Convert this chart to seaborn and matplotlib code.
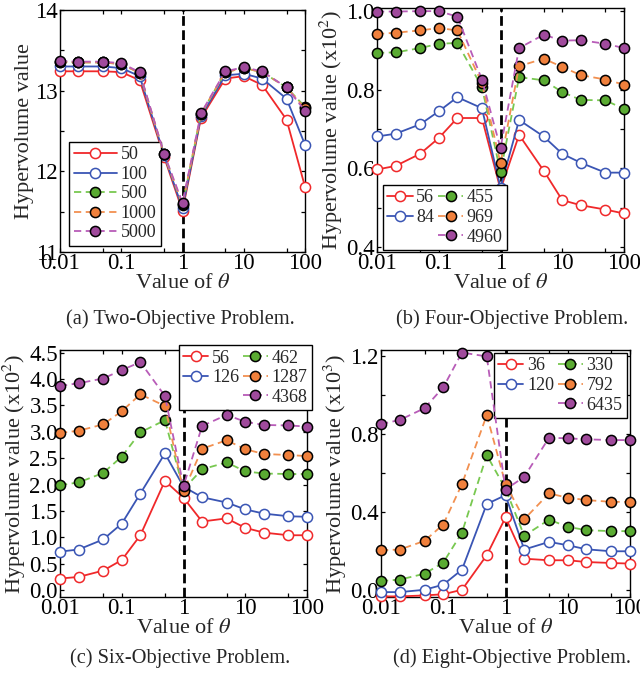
import matplotlib
matplotlib.use("Agg")
import matplotlib.pyplot as plt
from matplotlib.lines import Line2D
from matplotlib.ticker import FixedLocator, FixedFormatter, MultipleLocator, FormatStrFormatter
import seaborn as sns

# ---- data -----------------------------------------------------------------
theta = [0.01, 0.02, 0.05, 0.1, 0.2, 0.5, 1, 2, 5, 10, 20, 50, 100]

# (a) two objectives
labels_a = ["50", "100", "500", "1000", "5000"]
hv_a_50 = [13.24, 13.24, 13.24, 13.23, 13.13, 12.18, 11.51, 12.66, 13.15, 13.18, 13.07, 12.64, 11.81]
hv_a_100 = [13.30, 13.30, 13.30, 13.28, 13.18, 12.20, 11.54, 12.68, 13.19, 13.21, 13.15, 12.90, 12.33]
hv_a_500 = [13.36, 13.35, 13.35, 13.33, 13.22, 12.21, 11.58, 12.71, 13.23, 13.28, 13.23, 13.04, 12.80]
hv_a_1000 = [13.36, 13.35, 13.35, 13.33, 13.22, 12.21, 11.59, 12.71, 13.23, 13.28, 13.23, 13.04, 12.78]
hv_a_5000 = [13.37, 13.36, 13.36, 13.34, 13.23, 12.22, 11.61, 12.72, 13.24, 13.29, 13.24, 13.04, 12.75]

# (b) four objectives (x10^2)
labels_b = ["56", "84", "455", "969", "4960"]
hv_b_56 = [0.597, 0.606, 0.637, 0.677, 0.728, 0.728, 0.546, 0.685, 0.594, 0.519, 0.506, 0.495, 0.485]
hv_b_84 = [0.681, 0.688, 0.712, 0.745, 0.781, 0.753, 0.551, 0.723, 0.681, 0.637, 0.614, 0.589, 0.589]
hv_b_455 = [0.894, 0.895, 0.906, 0.917, 0.919, 0.807, 0.590, 0.832, 0.824, 0.794, 0.774, 0.773, 0.751]
hv_b_969 = [0.942, 0.945, 0.951, 0.957, 0.951, 0.817, 0.613, 0.860, 0.879, 0.858, 0.837, 0.826, 0.813]
hv_b_4960 = [0.999, 0.999, 1.000, 1.000, 0.986, 0.826, 0.651, 0.906, 0.940, 0.925, 0.926, 0.917, 0.906]

# (c) six objectives (x10^2)
labels_c = ["56", "126", "462", "1287", "4368"]
hv_c_56 = [0.22, 0.25, 0.37, 0.57, 1.04, 2.07, 1.75, 1.30, 1.36, 1.18, 1.09, 1.04, 1.04]
hv_c_126 = [0.73, 0.77, 0.96, 1.26, 1.83, 2.59, 1.96, 1.76, 1.66, 1.53, 1.45, 1.40, 1.39]
hv_c_462 = [1.99, 2.04, 2.22, 2.53, 2.99, 3.22, 1.91, 2.29, 2.42, 2.25, 2.21, 2.20, 2.20]
hv_c_1287 = [2.98, 3.02, 3.14, 3.39, 3.71, 3.49, 1.87, 2.68, 2.84, 2.67, 2.58, 2.56, 2.54]
hv_c_4368 = [3.87, 3.92, 4.01, 4.17, 4.32, 3.68, 1.97, 3.11, 3.32, 3.19, 3.13, 3.12, 3.10]

# (d) eight objectives (x10^3)
labels_d = ["36", "120", "330", "792", "6435"]
hv_d_36 = [-0.031, -0.031, -0.026, -0.020, 0.003, 0.180, 0.373, 0.162, 0.154, 0.154, 0.145, 0.140, 0.137]
hv_d_120 = [-0.009, -0.009, 0.003, 0.029, 0.106, 0.442, 0.487, 0.209, 0.248, 0.231, 0.210, 0.200, 0.200]
hv_d_330 = [0.048, 0.055, 0.085, 0.142, 0.296, 0.692, 0.520, 0.279, 0.362, 0.325, 0.308, 0.303, 0.303]
hv_d_792 = [0.205, 0.209, 0.253, 0.337, 0.544, 0.897, 0.544, 0.364, 0.496, 0.474, 0.462, 0.453, 0.453]
hv_d_6435 = [0.851, 0.872, 0.932, 1.039, 1.217, 1.197, 0.516, 0.581, 0.781, 0.778, 0.773, 0.769, 0.769]

xtick_vals = [0.01, 0.1, 1, 10, 100]
xtick_labels = ["0.01", "0.1", "1", "10", "100"]
captions = ["(a) Two-Objective Problem.", "(b) Four-Objective Problem.",
            "(c) Six-Objective Problem.", "(d) Eight-Objective Problem."]

# ---- style ----------------------------------------------------------------
sns.set_style("ticks")
plt.rcParams["font.family"] = ["Liberation Serif", "DejaVu Serif"]
plt.rcParams["mathtext.fontset"] = "stix"
plt.rcParams["axes.linewidth"] = 1.0
plt.rcParams["axes.edgecolor"] = "black"
plt.rcParams["xtick.color"] = "black"
plt.rcParams["ytick.color"] = "black"

RED = "#f0282a"
BLUE = "#3a55b4"
GREEN_L, GREEN_F = "#78c850", "#5aab32"
ORANGE_L, ORANGE_F = "#f29050", "#f0803c"
PURPLE_L, PURPLE_F = "#b85cb8", "#a04a9c"

DASH = (0, (4, 2.5))
series_style = [
    dict(color=RED, linestyle="-", markerfacecolor="white", markeredgecolor=RED),
    dict(color=BLUE, linestyle="-", markerfacecolor="white", markeredgecolor=BLUE),
    dict(color=GREEN_L, linestyle=DASH, markerfacecolor=GREEN_F, markeredgecolor="black"),
    dict(color=ORANGE_L, linestyle=DASH, markerfacecolor=ORANGE_F, markeredgecolor="black"),
    dict(color=PURPLE_L, linestyle=DASH, markerfacecolor=PURPLE_F, markeredgecolor="black"),
]

TICK_FS = 16.5
LABEL_FS = 16
LEGEND_FS = 13
CAPTION_FS = 14.7

fig = plt.figure(figsize=(6.4, 6.73), dpi=100)
W, H = 640, 673


def add_axes(l, r, t, b):
    return fig.add_axes([l / W, 1 - b / H, (r - l) / W, (b - t) / H])


def draw_panel(ax, series, labels):
    ax.axvline(1, color="black", linestyle=(0, (3.5, 1.6)), linewidth=2.0, zorder=1.5)
    handles = []
    for i, (vals, lab) in enumerate(zip(series, labels)):
        st = series_style[i]
        sns.lineplot(x=theta, y=vals, ax=ax, marker="o", markersize=7.3,
                     markeredgewidth=1.1, linewidth=1.3, clip_on=False,
                     zorder=3 + i, label=lab, legend=False, **st)
        handles.append(ax.lines[-1])
    ax.set_xscale("log")
    ax.set_xlim(0.01, 100)
    ax.xaxis.set_major_locator(FixedLocator(xtick_vals))
    ax.xaxis.set_major_formatter(FixedFormatter(xtick_labels))
    ax.xaxis.set_minor_locator(FixedLocator([0.05, 0.5, 5, 50]))
    ax.tick_params(which="both", direction="in", top=True, right=True,
                   labelsize=TICK_FS, width=0.9)
    ax.tick_params(axis="x", pad=1)
    ax.tick_params(axis="y", pad=1.5)
    ax.tick_params(which="major", length=3.2)
    ax.tick_params(which="minor", length=2.6)
    ax.set_xlabel(r"Value of $\theta$", fontsize=LABEL_FS, labelpad=-0.5)
    for s in ax.spines.values():
        s.set_visible(True)
        s.set_color("black")
    return handles


legend_common = dict(fontsize=LEGEND_FS, frameon=True, fancybox=False,
                     edgecolor="black", framealpha=1, borderaxespad=0,
                     borderpad=0.25, labelspacing=0.14, handletextpad=0.2)

blank = Line2D([], [], linestyle="none", marker=None)

# (a)
ax_a = add_axes(60, 305, 10, 252)
h = draw_panel(ax_a, [hv_a_50, hv_a_100, hv_a_500, hv_a_1000, hv_a_5000], labels_a)
ax_a.set_ylim(11, 14)
ax_a.yaxis.set_major_locator(MultipleLocator(1))
ax_a.yaxis.set_minor_locator(MultipleLocator(0.5))
ax_a.yaxis.set_major_formatter(FormatStrFormatter("%d"))
ax_a.set_ylabel("Hypervolume value", fontsize=LABEL_FS, labelpad=1)
leg = ax_a.legend(h, labels_a, loc="lower left", bbox_to_anchor=(0.037, 0.025),
                  handlelength=2.4, **legend_common)
leg.get_frame().set_linewidth(1.0)

# (b)
ax_b = add_axes(377, 624, 8, 252)
h = draw_panel(ax_b, [hv_b_56, hv_b_84, hv_b_455, hv_b_969, hv_b_4960], labels_b)
ax_b.set_ylim(0.387, 1.008)
ax_b.yaxis.set_major_locator(FixedLocator([0.4, 0.6, 0.8, 1.0]))
ax_b.yaxis.set_minor_locator(FixedLocator([0.5, 0.7, 0.9]))
ax_b.yaxis.set_major_formatter(FormatStrFormatter("%.1f"))
ax_b.set_ylabel(r"Hypervolume value (x10$^2$)", fontsize=LABEL_FS, labelpad=1)
leg = ax_b.legend([h[0], h[1], blank, h[2], h[3], h[4]],
                  [labels_b[0], labels_b[1], "", labels_b[2], labels_b[3], labels_b[4]],
                  loc="lower left", bbox_to_anchor=(0.024, 0.008), ncol=2,
                  handlelength=1.4, columnspacing=0.2, **legend_common)
leg.get_frame().set_linewidth(1.0)

# (c)
ax_c = add_axes(60, 307, 350, 597)
h = draw_panel(ax_c, [hv_c_56, hv_c_126, hv_c_462, hv_c_1287, hv_c_4368], labels_c)
ax_c.set_ylim(-0.13, 4.55)
ax_c.yaxis.set_major_locator(FixedLocator([0.5 * k for k in range(10)]))
ax_c.yaxis.set_major_formatter(FormatStrFormatter("%.1f"))
ax_c.set_ylabel(r"Hypervolume value (x10$^2$)", fontsize=LABEL_FS, labelpad=1)
leg = ax_c.legend([h[0], h[1], blank, h[2], h[3], h[4]],
                  [labels_c[0], labels_c[1], "", labels_c[2], labels_c[3], labels_c[4]],
                  loc="upper right", bbox_to_anchor=(1.02, 1.02), ncol=2,
                  handlelength=1.4, columnspacing=0.2, **legend_common)
leg.get_frame().set_linewidth(1.0)

# (d)
ax_d = add_axes(381, 630, 350, 597)
h = draw_panel(ax_d, [hv_d_36, hv_d_120, hv_d_330, hv_d_792, hv_d_6435], labels_d)
ax_d.set_ylim(-0.034, 1.23)
ax_d.yaxis.set_major_locator(FixedLocator([0.0, 0.4, 0.8, 1.2]))
ax_d.yaxis.set_minor_locator(FixedLocator([0.2, 0.6, 1.0]))
ax_d.yaxis.set_major_formatter(FormatStrFormatter("%.1f"))
ax_d.set_ylabel(r"Hypervolume value (x10$^3$)", fontsize=LABEL_FS, labelpad=1)
leg = ax_d.legend([h[0], h[1], blank, h[2], h[3], h[4]],
                  [labels_d[0], labels_d[1], "", labels_d[2], labels_d[3], labels_d[4]],
                  loc="upper right", bbox_to_anchor=(0.988, 0.988), ncol=2,
                  handlelength=1.4, columnspacing=0.2, **legend_common)
leg.get_frame().set_linewidth(1.0)

# captions under each panel
fig.text(180 / W, 1 - 319 / H, captions[0], ha="center", va="center", fontsize=CAPTION_FS)
fig.text(512 / W, 1 - 319 / H, captions[1], ha="center", va="center", fontsize=CAPTION_FS)
fig.text(180 / W, 1 - 658 / H, captions[2], ha="center", va="center", fontsize=CAPTION_FS)
fig.text(512 / W, 1 - 658 / H, captions[3], ha="center", va="center", fontsize=CAPTION_FS)

fig.savefig("out.png", dpi=100, facecolor="white")
